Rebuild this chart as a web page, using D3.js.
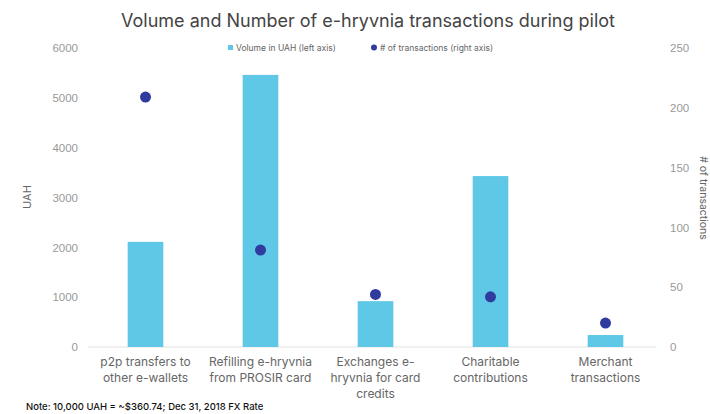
<!DOCTYPE html>
<html>
<head>
<meta charset="utf-8">
<script src="https://cdn.jsdelivr.net/npm/d3@7"></script>
<style>
  body { margin: 0; background: #fff; }
  svg { font-family: Inter, "Noto Sans", sans-serif; }
</style>
</head>
<body>
<svg width="710" height="414"></svg>
<script>
let categories = [
  ["p2p transfers to", "other e-wallets"],
  ["Refilling e-hryvnia", "from PROSIR card"],
  ["Exchanges e-", "hryvnia for card", "credits"],
  ["Charitable", "contributions"],
  ["Merchant", "transactions"]
];
let volumeUAH = [2110, 5460, 920, 3430, 240];
let numTransactions = [209, 81, 44, 42, 20];
let leftTicks = [0, 1000, 2000, 3000, 4000, 5000, 6000];
let rightTicks = [0, 50, 100, 150, 200, 250];

let svg = d3.select("svg"),
    width = +svg.attr("width"),
    height = +svg.attr("height");

let margin = {top: 48, right: 48, bottom: 67, left: 88};
let plotBottom = height - margin.bottom;

let x = d3.scaleBand()
  .domain(d3.range(categories.length))
  .range([margin.left, margin.left + 575])
  .paddingInner(0.69)
  .paddingOuter(0.345);

let yLeft = d3.scaleLinear().domain([0, 6000]).range([plotBottom, margin.top]);
let yRight = d3.scaleLinear().domain([0, 250]).range([plotBottom, margin.top]);

// baseline
svg.append("line")
  .attr("x1", margin.left).attr("x2", 656)
  .attr("y1", plotBottom).attr("y2", plotBottom)
  .attr("stroke", "#e2e2e2").attr("stroke-width", 1);

// left axis
let gl = svg.append("g")
  .attr("transform", `translate(${margin.left - 10},0)`)
  .call(d3.axisLeft(yLeft).tickValues(leftTicks).tickFormat(d3.format("d")).tickSize(0).tickPadding(0));
gl.select(".domain").remove();
gl.selectAll("text").attr("fill", "#999").attr("font-size", 11.5);

// right axis
let gr = svg.append("g")
  .attr("transform", `translate(670,0)`)
  .call(d3.axisRight(yRight).tickValues(rightTicks).tickFormat(d3.format("d")).tickSize(0).tickPadding(0));
gr.select(".domain").remove();
gr.selectAll("text").attr("fill", "#999").attr("font-size", 11.5);

// axis titles
svg.append("text")
  .attr("transform", `translate(31,197) rotate(-90)`)
  .attr("text-anchor", "middle")
  .attr("fill", "#666").attr("font-size", 11)
  .text("UAH");

svg.append("text")
  .attr("transform", `translate(700,198) rotate(90)`)
  .attr("text-anchor", "middle")
  .attr("fill", "#666").attr("font-size", 10.5)
  .text("# of transactions");

// bars
svg.append("g")
  .selectAll("rect")
  .data(volumeUAH)
  .enter().append("rect")
  .attr("x", (d, i) => x(i))
  .attr("width", x.bandwidth())
  .attr("y", d => yLeft(d))
  .attr("height", d => plotBottom - yLeft(d))
  .attr("fill", "#5ec8e6");

// dots
svg.append("g")
  .selectAll("circle")
  .data(numTransactions)
  .enter().append("circle")
  .attr("cx", (d, i) => x(i) + x.bandwidth() / 2)
  .attr("cy", d => yRight(d))
  .attr("r", 5.5)
  .attr("fill", "#2f3b9e");

// category labels
let cat = svg.append("g")
  .selectAll("text")
  .data(categories)
  .enter().append("text")
  .attr("text-anchor", "middle")
  .attr("fill", "#666")
  .attr("font-size", 12);
cat.selectAll("tspan")
  .data((d, i) => d.map(t => ({t, i})))
  .enter().append("tspan")
  .attr("x", d => x(d.i) + x.bandwidth() / 2)
  .attr("y", (d, j) => plotBottom + 19 + j * 16)
  .text(d => d.t);

// title
svg.append("text")
  .attr("x", 368).attr("y", 27)
  .attr("text-anchor", "middle")
  .attr("fill", "#444").attr("font-size", 18)
  .text("Volume and Number of e-hryvnia transactions during pilot");

// legend
let lg = svg.append("g").attr("font-size", 8.5).attr("fill", "#666");
lg.append("rect").attr("x", 228).attr("y", 45).attr("width", 5).attr("height", 5).attr("fill", "#5ec8e6");
lg.append("text").attr("x", 236).attr("y", 51).text("Volume in UAH (left axis)");
lg.append("circle").attr("cx", 374).attr("cy", 47.5).attr("r", 3).attr("fill", "#2f3b9e");
lg.append("text").attr("x", 380).attr("y", 51).text("# of transactions (right axis)");

// note
svg.append("text")
  .attr("x", 26).attr("y", 410)
  .attr("fill", "#111").attr("font-size", 9.5).attr("font-weight", 500)
  .text("Note: 10,000 UAH = ~$360.74; Dec 31, 2018 FX Rate");
</script>
</body>
</html>
